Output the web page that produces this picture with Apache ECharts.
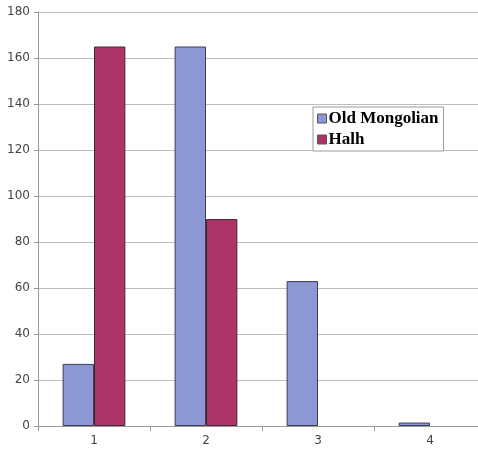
<!DOCTYPE html>
<html>
<head>
<meta charset="utf-8">
<script src="https://cdn.jsdelivr.net/npm/echarts@6/dist/echarts.min.js"></script>
<style>
  html, body { margin: 0; padding: 0; background: #fff; }
  #chart { width: 478px; height: 456px; }
</style>
</head>
<body>
<div id="chart"></div>
<script>
// Category labels along the x axis
const categories = ['1', '2', '3', '4'];
// Values for each series
const oldMongolian = [27, 165, 63, 1.5];
const halh = [165, 90, 0, 0];
// Value axis range
const yMin = 0, yMax = 180, yStep = 20;

// Zero-height bars get no outline, so nothing is drawn for them
function toBarData(values) {
  return values.map(v => (v === 0 ? { value: v, itemStyle: { borderWidth: 0 } } : v));
}

const chart = echarts.init(document.getElementById('chart'), null, { renderer: 'canvas' });

chart.setOption({
  animation: false,
  backgroundColor: '#ffffff',
  grid: { left: 38, top: 12, width: 448, bottom: 30, containLabel: false, outerBoundsMode: 'none' },
  legend: {
    orient: 'vertical',
    left: 313,
    top: 107,
    itemWidth: 9,
    itemHeight: 9,
    itemGap: 4,
    padding: [3, 5, 3, 4],
    borderColor: '#9a9a9a',
    borderWidth: 1,
    backgroundColor: '#ffffff',
    icon: 'rect',
    itemStyle: { borderColor: '#555', borderWidth: 1 },
    textStyle: {
      fontFamily: 'Liberation Serif',
      fontWeight: 'bold',
      fontSize: 17,
      color: '#000',
      padding: [0, 0, 0, -3]
    },
    data: ['Old Mongolian', 'Halh']
  },
  xAxis: {
    type: 'category',
    data: categories,
    axisLine: { lineStyle: { color: '#999', width: 1 } },
    axisTick: { show: true, length: 5, lineStyle: { color: '#999' } },
    axisLabel: { fontFamily: 'DejaVu Sans', fontSize: 12, color: '#444', margin: 9 },
    splitLine: { show: false }
  },
  yAxis: {
    type: 'value',
    min: yMin,
    max: yMax,
    interval: yStep,
    axisLine: { show: true, lineStyle: { color: '#999', width: 1 } },
    axisTick: { show: true, length: 4, lineStyle: { color: '#999' } },
    axisLabel: { fontFamily: 'DejaVu Sans', fontSize: 12, color: '#444', margin: 8 },
    splitLine: { lineStyle: { color: '#bdbdbd', width: 1 } }
  },
  series: [
    {
      name: 'Old Mongolian',
      type: 'bar',
      data: toBarData(oldMongolian),
      barGap: '0%',
      barCategoryGap: '44%',
      itemStyle: { color: '#8c97d3', borderColor: '#3c3c5a', borderWidth: 1 }
    },
    {
      name: 'Halh',
      type: 'bar',
      data: toBarData(halh),
      itemStyle: { color: '#ad3468', borderColor: '#3c2a36', borderWidth: 1 }
    }
  ]
});
</script>
</body>
</html>
